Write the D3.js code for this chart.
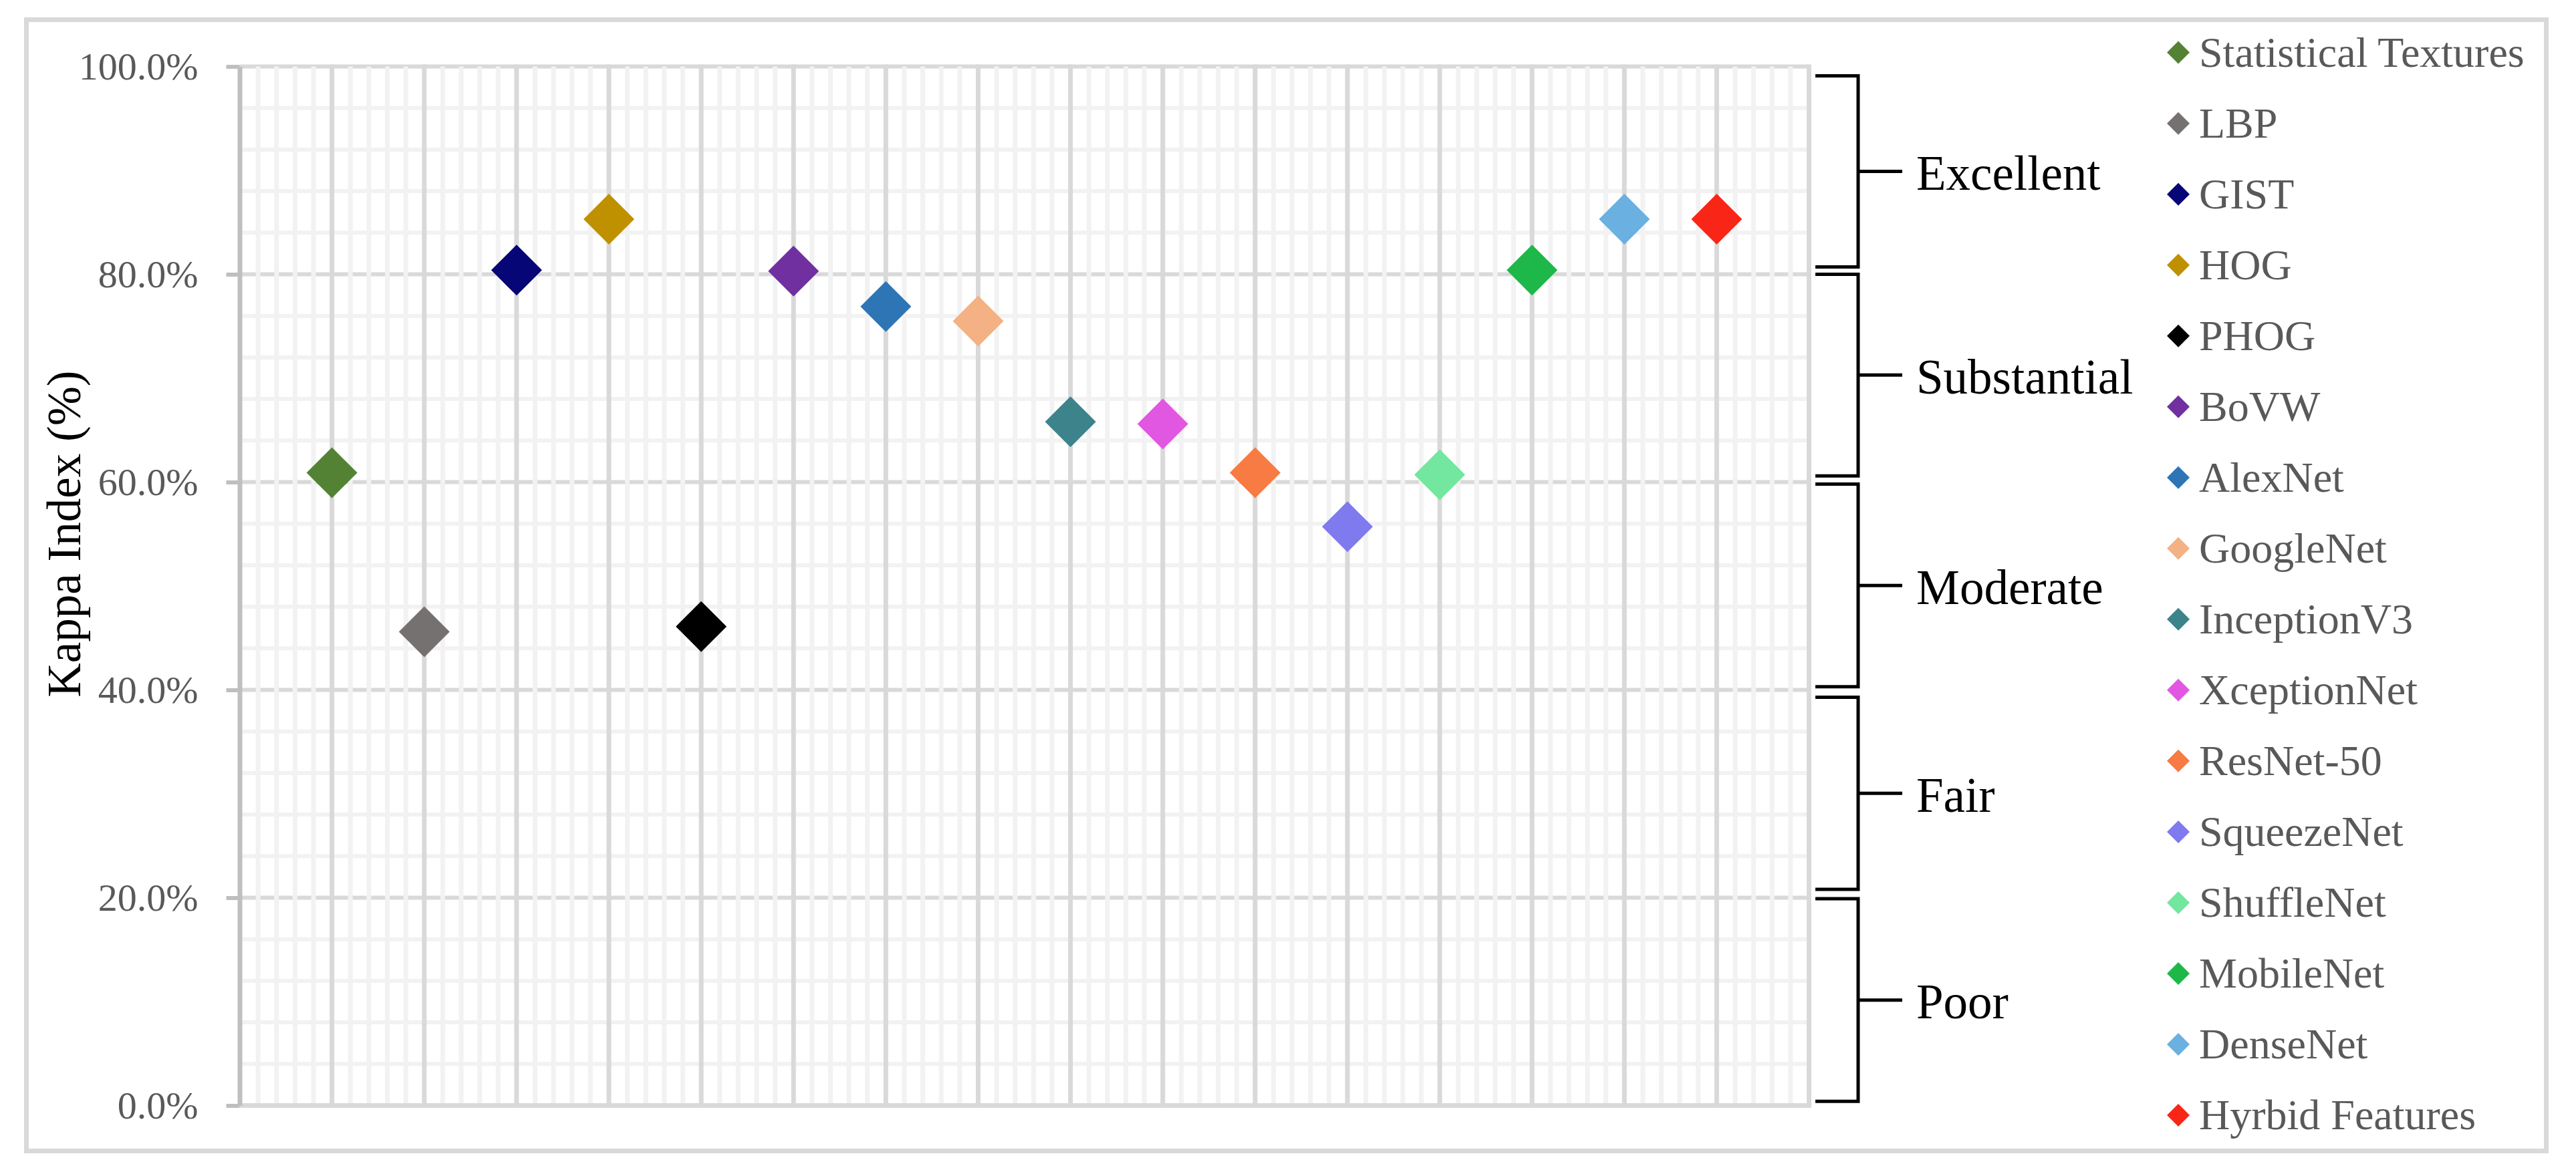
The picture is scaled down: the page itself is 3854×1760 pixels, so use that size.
<!DOCTYPE html>
<html>
<head>
<meta charset="utf-8">
<script src="https://cdn.jsdelivr.net/npm/d3@7"></script>
<style>
  body { margin: 0; background: #ffffff; }
  svg { display: block; }
  text { font-family: "Liberation Serif", "Times New Roman", serif; }
</style>
</head>
<body>
<div class="chart"></div>
<script>
// -----------------------------------------------------------------------
// Data
// -----------------------------------------------------------------------

// one point per feature set, placed at x = 1..16
const methods = [
  "Statistical Textures", "LBP", "GIST", "HOG", "PHOG", "BoVW", "AlexNet",
  "GoogleNet", "InceptionV3", "XceptionNet", "ResNet-50", "SqueezeNet",
  "ShuffleNet", "MobileNet", "DenseNet", "Hyrbid Features"
];

// kappa index in percent
const kappa = [
  60.9, 45.6, 80.4, 85.3, 46.1, 80.3, 76.9,
  75.5, 65.8, 65.6, 60.9, 55.7,
  60.7, 80.4, 85.3, 85.3
];

const methodColors = [
  "#548235", "#767171", "#060676", "#bf9000", "#000000", "#7030a0", "#2e75b6",
  "#f4b183", "#3c838b", "#e257e2", "#f77b43", "#7f7aee",
  "#73e6a0", "#1eb84a", "#6ab0e0", "#f92618"
];

// agreement bands drawn as brackets on the right (percent)
const bandNames = ["Poor", "Fair", "Moderate", "Substantial", "Excellent"];
const bandLow = [0.4, 20.8, 40.3, 60.6, 80.7];
const bandHigh = [19.9, 39.3, 59.8, 80.0, 99.1];

const yTicks = [0, 20, 40, 60, 80, 100];

// -----------------------------------------------------------------------
// Layout
// -----------------------------------------------------------------------

const WIDTH = 3854;
const HEIGHT = 1760;
const PLOT = { left: 358.5, right: 2706.5, top: 99.5, bottom: 1654.5 };
const MAJOR_GRID = "#d9d9d9";
const MINOR_GRID = "#f2f2f2";
const AXIS_GREY = "#bfbfbf";
const LABEL_GREY = "#595959";

const svg = d3.select(".chart")
  .append("svg")
  .attr("width", WIDTH)
  .attr("height", HEIGHT);

// chart border
svg.append("rect")
  .attr("x", 39.5).attr("y", 29.5)
  .attr("width", 3770).attr("height", 1693)
  .attr("fill", "#ffffff")
  .attr("stroke", MAJOR_GRID)
  .attr("stroke-width", 7);

const xScale = d3.scaleLinear().domain([0, 17]).range([PLOT.left, PLOT.right]);
const yScale = d3.scaleLinear().domain([0, 100]).range([PLOT.bottom, PLOT.top]);

// -----------------------------------------------------------------------
// Gridlines
// -----------------------------------------------------------------------

const grid = svg.append("g").attr("class", "grid");

// horizontal: minor every 4%, major every 20%
const hMinor = d3.range(4, 100, 4).filter(v => v % 20 !== 0);
grid.append("g").selectAll("line")
  .data(hMinor)
  .join("line")
  .attr("x1", PLOT.left).attr("x2", PLOT.right)
  .attr("y1", d => yScale(d)).attr("y2", d => yScale(d))
  .attr("stroke", MINOR_GRID).attr("stroke-width", 6);

grid.append("g").selectAll("line")
  .data(yTicks.filter(v => v > 0))
  .join("line")
  .attr("x1", PLOT.left).attr("x2", PLOT.right)
  .attr("y1", d => yScale(d)).attr("y2", d => yScale(d))
  .attr("stroke", MAJOR_GRID).attr("stroke-width", 6);

// vertical: minor every 0.2, major at each integer
const vMinor = d3.range(1, 85).map(i => i / 5).filter(v => Math.abs(v - Math.round(v)) > 1e-6);
grid.append("g").selectAll("line")
  .data(vMinor)
  .join("line")
  .attr("x1", d => xScale(d)).attr("x2", d => xScale(d))
  .attr("y1", PLOT.top).attr("y2", PLOT.bottom)
  .attr("stroke", MINOR_GRID).attr("stroke-width", 7);

grid.append("g").selectAll("line")
  .data(d3.range(1, 18))
  .join("line")
  .attr("x1", d => xScale(d)).attr("x2", d => xScale(d))
  .attr("y1", PLOT.top - 3).attr("y2", PLOT.bottom)
  .attr("stroke", MAJOR_GRID).attr("stroke-width", 7);

// bottom axis line (0%)
svg.append("line")
  .attr("x1", PLOT.left).attr("x2", PLOT.right + 3.5)
  .attr("y1", yScale(0)).attr("y2", yScale(0))
  .attr("stroke", MAJOR_GRID).attr("stroke-width", 7);

// -----------------------------------------------------------------------
// Y axis
// -----------------------------------------------------------------------

const yAxis = svg.append("g")
  .attr("class", "y-axis")
  .attr("transform", `translate(${PLOT.left}, 0)`)
  .call(
    d3.axisLeft(yScale)
      .tickValues(yTicks)
      .tickSize(20)
      .tickSizeOuter(0)
      .tickPadding(42)
      .tickFormat(d => d.toFixed(1) + "%")
  );

yAxis.select(".domain").attr("stroke", AXIS_GREY).attr("stroke-width", 7);
yAxis.selectAll(".tick line").attr("stroke", AXIS_GREY).attr("stroke-width", 6);
yAxis.selectAll(".tick text")
  .attr("fill", LABEL_GREY)
  .attr("font-size", 58)
  .attr("font-family", "Liberation Serif")
  .attr("dy", "0.33em");

// axis title
svg.append("text")
  .attr("transform", "translate(120, 799) rotate(-90)")
  .attr("text-anchor", "middle")
  .attr("font-size", 71)
  .attr("fill", "#000000")
  .text("Kappa Index (%)");

// -----------------------------------------------------------------------
// Points
// -----------------------------------------------------------------------

const points = methods.map((m, i) => ({ name: m, x: i + 1, value: kappa[i], color: methodColors[i] }));

const bigDiamond = d3.symbol(d3.symbolSquare, 2888)();

svg.append("g").attr("class", "points")
  .selectAll("path")
  .data(points)
  .join("path")
  .attr("d", bigDiamond)
  .attr("transform", d => `translate(${xScale(d.x)}, ${yScale(d.value)}) rotate(45)`)
  .attr("fill", d => d.color);

// -----------------------------------------------------------------------
// Agreement brackets
// -----------------------------------------------------------------------

const BR_LEFT = 2716;
const BR_SPINE = 2780;
const BR_TICK = 2846;
const BR_LABEL = 2867;

const bands = bandNames.map((n, i) => ({ name: n, lo: bandLow[i], hi: bandHigh[i] }));

const bracket = svg.append("g").attr("class", "brackets")
  .selectAll("g")
  .data(bands)
  .join("g");

bracket.append("path")
  .attr("d", d => {
    const top = yScale(d.hi);
    const bot = yScale(d.lo);
    return `M${BR_LEFT},${top} H${BR_SPINE} V${bot} H${BR_LEFT}`;
  })
  .attr("fill", "none")
  .attr("stroke", "#000000")
  .attr("stroke-width", 5);

bracket.append("line")
  .attr("x1", BR_SPINE).attr("x2", BR_TICK)
  .attr("y1", d => yScale((d.lo + d.hi) / 2))
  .attr("y2", d => yScale((d.lo + d.hi) / 2))
  .attr("stroke", "#000000")
  .attr("stroke-width", 5);

bracket.append("text")
  .attr("x", BR_LABEL)
  .attr("y", d => yScale((d.lo + d.hi) / 2))
  .attr("dy", "0.38em")
  .attr("font-size", 73)
  .attr("fill", "#000000")
  .text(d => d.name);

// -----------------------------------------------------------------------
// Legend
// -----------------------------------------------------------------------

const legendY = d3.scalePoint().domain(methods).range([78.6, 1669]);
const smallDiamond = d3.symbol(d3.symbolSquare, 578)();

const legendRow = svg.append("g").attr("class", "legend")
  .selectAll("g")
  .data(points)
  .join("g")
  .attr("transform", d => `translate(3259, ${legendY(d.name)})`);

legendRow.append("path")
  .attr("d", smallDiamond)
  .attr("transform", "rotate(45)")
  .attr("fill", d => d.color);

legendRow.append("text")
  .attr("x", 31)
  .attr("dy", "0.33em")
  .attr("font-size", 64)
  .attr("fill", LABEL_GREY)
  .text(d => d.name);
</script>
</body>
</html>
